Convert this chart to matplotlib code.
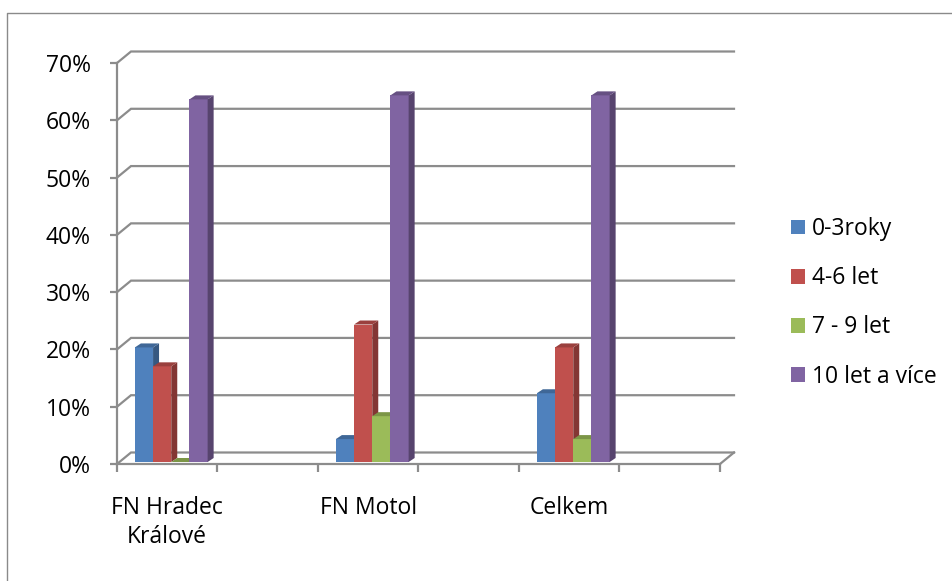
import numpy as np
import matplotlib
matplotlib.use("Agg")
import matplotlib.pyplot as plt
from matplotlib.patches import Polygon, Patch
from matplotlib.lines import Line2D
from matplotlib.ticker import PercentFormatter
from matplotlib.colors import to_rgb

plt.rcParams['font.family'] = ['Open Sans', 'DejaVu Sans']

# --- data -------------------------------------------------------------
categories = ["FN Hradec\nKrálové", "FN Motol", "Celkem"]
series_names = ["0-3roky", "4-6 let", "7 - 9 let", "10 let a více"]
val_0_3 = [0.20, 0.04, 0.12]
val_4_6 = [0.167, 0.24, 0.20]
val_7_9 = [0.0, 0.08, 0.04]
val_10 = [0.633, 0.64, 0.64]
y_ticks = [0.0, 0.1, 0.2, 0.3, 0.4, 0.5, 0.6, 0.7]

series_values = [val_0_3, val_4_6, val_7_9, val_10]
colors = ["#4F81BD", "#C0504D", "#9BBB59", "#8064A2"]

FS = 16.5

# --- figure / axes ----------------------------------------------------
W, H = 953, 581
fig = plt.figure(figsize=(W / 100, H / 100), dpi=100)
ax = fig.add_axes([117 / W, (H - 464) / H, 603 / W, 401 / H])
n_slots = 2 * len(categories)
ax.set_xlim(0, n_slots)
ax.set_ylim(0, 0.70)

# pixel -> data unit conversion for the pseudo-3D depth
sx = n_slots / ax.bbox.width
sy = 0.70 / ax.bbox.height

grid_col = "#8c8c8c"
wall_dx, wall_dy = 14 * sx, 11.5 * sy

# back wall gridlines with side-wall diagonals
for v in y_ticks:
    ax.plot([0, wall_dx, n_slots + wall_dx], [v, v + wall_dy, v + wall_dy],
            color=grid_col, lw=1.6, clip_on=False, zorder=1,
            solid_joinstyle='miter')
# right edge of the floor
ax.plot([n_slots, n_slots + wall_dx], [0, wall_dy], color=grid_col, lw=1.6,
        clip_on=False, zorder=1)


def shade(c, f):
    r, g, b = to_rgb(c)
    return (r * f, g * f, b * f)


# bars: front face + right side + top
bw = 0.181
plane_dx, plane_dy = 4 * sx, 2 * sy
depth_dx, depth_dy = 6 * sx, 4 * sy
centers = np.arange(len(categories)) * 2 + 0.5
for ci, c in enumerate(centers):
    for si, (vals, col) in enumerate(zip(series_values, colors)):
        v = vals[ci]
        x0 = c - 2 * bw + si * bw + plane_dx
        x1 = x0 + bw
        y0 = plane_dy
        y1 = plane_dy + v
        z = 3 + ci * 10 + si
        ax.bar(x0, v, width=bw, bottom=y0, align='edge', color=col,
               edgecolor='none', zorder=z, clip_on=False)
        ax.add_patch(Polygon([(x1, y0), (x1, y1), (x1 + depth_dx, y1 + depth_dy),
                              (x1 + depth_dx, y0 + depth_dy)], closed=True,
                             facecolor=shade(col, 0.68), edgecolor='none',
                             zorder=z, clip_on=False))
        ax.add_patch(Polygon([(x0, y1), (x1, y1), (x1 + depth_dx, y1 + depth_dy),
                              (x0 + depth_dx, y1 + depth_dy)], closed=True,
                             facecolor=shade(col, 0.8), edgecolor='none',
                             zorder=z, clip_on=False))

# --- axes styling -----------------------------------------------------
for s in ("top", "right"):
    ax.spines[s].set_visible(False)
for s in ("left", "bottom"):
    ax.spines[s].set_color(grid_col)
    ax.spines[s].set_linewidth(1.6)
    ax.spines[s].set_zorder(2)

ax.set_yticks(y_ticks)
ax.yaxis.set_major_formatter(PercentFormatter(1.0, decimals=0))
ax.tick_params(axis='y', length=5, width=1.6, color=grid_col, pad=14,
               labelsize=FS, labelcolor='black')

ax.set_xticks(np.arange(n_slots + 1))
ax.set_xticklabels([])
ax.set_xticks(centers, minor=True)
ax.set_xticklabels(categories, minor=True)
ax.tick_params(axis='x', which='major', length=5.5, width=1.6, color=grid_col)
ax.tick_params(axis='x', which='minor', length=0, pad=23, labelsize=FS,
               labelcolor='black')
for t in ax.get_xticklabels(minor=True):
    t.set_linespacing(1.3)
ax.patch.set_visible(False)

# --- legend -----------------------------------------------------------
handles = [Patch(facecolor=c, edgecolor='none') for c in colors]
fig.legend(handles, series_names, loc='upper left',
           bbox_to_anchor=(791 / W, 1 - 217 / H), frameon=False, fontsize=FS,
           handlelength=0.62, handleheight=0.62, handletextpad=0.3,
           labelspacing=1.1, borderpad=0, borderaxespad=0)

# chart area border
fig.add_artist(Line2D([7 / W, 7 / W, 1.01], [-0.01, 1 - 13 / H, 1 - 13 / H],
                      transform=fig.transFigure, color="#8a8a8a", lw=1))

fig.savefig("out.png", dpi=100)
